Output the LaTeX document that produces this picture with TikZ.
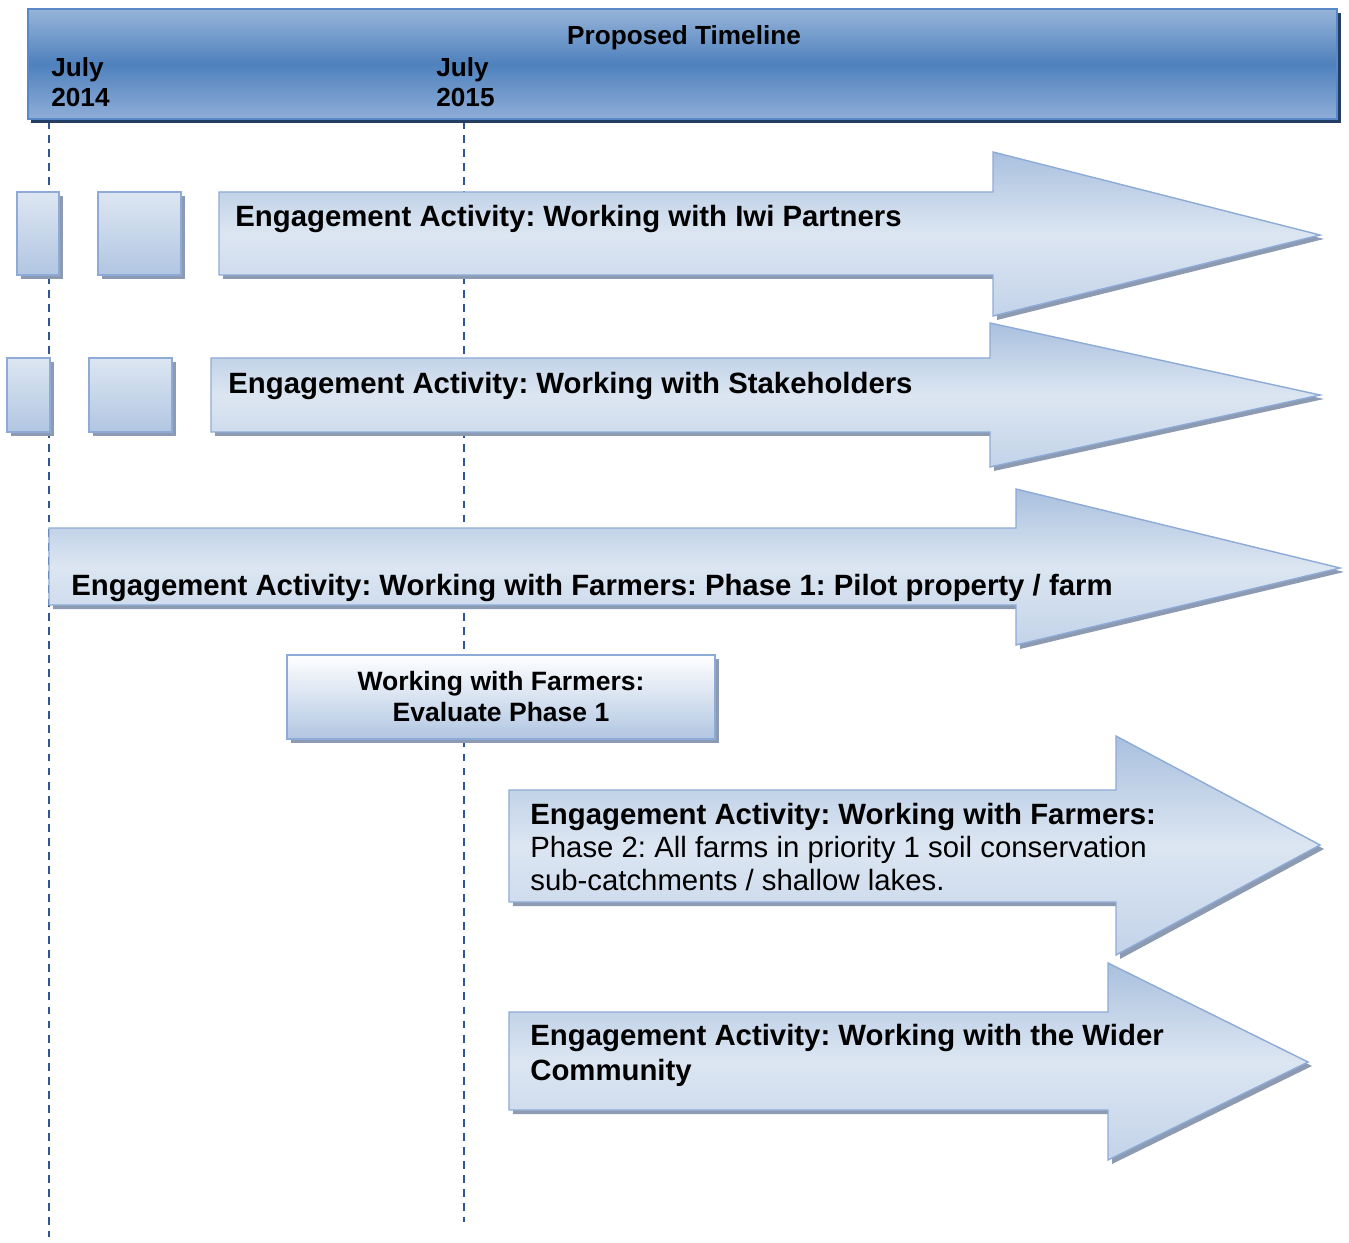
\documentclass[tikz,border=0pt]{standalone}
\usepackage{fontspec}
\setmainfont{Liberation Sans}
\frenchspacing
\definecolor{hdrtop}{HTML}{97B4D9}
\definecolor{hdrmid}{HTML}{4F81BD}
\definecolor{hdrbot}{HTML}{8FAED8}
\definecolor{hdrline}{HTML}{5A87C5}
\definecolor{hdrshadow}{HTML}{233D63}
\definecolor{boxline}{HTML}{8DABD6}
\definecolor{boxtop}{HTML}{DDE6F2}
\definecolor{boxbot}{HTML}{B1C6E2}
\definecolor{arrtop}{HTML}{A9C0DE}
\definecolor{arrmid}{HTML}{DCE6F2}
\definecolor{arrbot}{HTML}{C3D3E9}
\definecolor{dropgray}{HTML}{8C9BB1}
\definecolor{lineblue}{HTML}{2F5597}
\tikzset{
	dropshadow/.style={fill=dropgray,draw=none},
	smallbox/.style={draw=boxline,line width=0.8pt,top color=boxtop,bottom color=boxbot},
	evalbox/.style={draw=boxline,line width=0.8pt,top color=white,bottom color=boxbot},
	bigarrow/.style={draw=boxline,line width=0.8pt,top color=arrtop,bottom color=arrbot,middle color=arrmid},
	yearline/.style={lineblue,line width=1.1pt,dash pattern=on 4.5pt off 3.5pt},
	hdrtxt/.style={inner sep=0pt,font=\fontsize{14.9}{17}\selectfont\bfseries},
	acttxt/.style={inner sep=0pt,font=\fontsize{16.7}{18.7}\selectfont\bfseries}
}
\begin{document}
\begin{tikzpicture}[x=0.02cm,y=-0.02cm]
		\useasboundingbox (0,0) rectangle (1349,1243);
		\coordinate (y14top) at (49,121);
		\coordinate (y14bot) at (49,1237);
		\coordinate (y15top) at (464,121);
		\coordinate (y15bot) at (464,1222);
		\draw [yearline] (y14top) -- (y14bot);
		\draw [yearline] (y15top) -- (y15bot);
		\fill [hdrshadow] (31,13) rectangle (1341,123);
		\draw [hdrline,line width=1.4pt,top color=hdrtop,bottom color=hdrbot,middle color=hdrmid] (28,9) rectangle (1337,119);
		\node [hdrtxt,anchor=base] (title) at (684,45) {Proposed Timeline};
		\node [hdrtxt,anchor=north west,align=left] (jul14) at (51,57) {July\\2014};
		\node [hdrtxt,anchor=north west,align=left] (jul15) at (436,57) {July\\2015};
		\fill [dropshadow] (21,196) rectangle (63,279);
		\fill [dropshadow] (102,196) rectangle (185,279);
		\draw [smallbox] (17,192) rectangle (59,275);
		\draw [smallbox] (98,192) rectangle (181,275);
		\fill [dropshadow,shift={(4,4)}] (219,192) -- (993,192) -- (993,152) -- (1320,235) -- (993,316) -- (993,275) -- (219,275) -- cycle;
		\draw [bigarrow] (219,192) -- (993,192) -- (993,152) -- (1320,235) -- (993,316) -- (993,275) -- (219,275) -- cycle;
		\node [acttxt,anchor=base west] (iwi) at (235,227) {Engagement Activity: Working with Iwi Partners};
		\fill [dropshadow] (11,362) rectangle (54,436);
		\fill [dropshadow] (93,362) rectangle (176,436);
		\draw [smallbox] (7,358) rectangle (50,432);
		\draw [smallbox] (89,358) rectangle (172,432);
		\fill [dropshadow,shift={(4,4)}] (211,358) -- (990,358) -- (990,323) -- (1320,395) -- (990,467) -- (990,432) -- (211,432) -- cycle;
		\draw [bigarrow] (211,358) -- (990,358) -- (990,323) -- (1320,395) -- (990,467) -- (990,432) -- (211,432) -- cycle;
		\node [acttxt,anchor=base west] (stake) at (228,394) {Engagement Activity: Working with Stakeholders};
		\fill [dropshadow,shift={(4,4)}] (49,528) -- (1016,528) -- (1016,489) -- (1340,568) -- (1016,645) -- (1016,605) -- (49,605) -- cycle;
		\draw [bigarrow] (49,528) -- (1016,528) -- (1016,489) -- (1340,568) -- (1016,645) -- (1016,605) -- (49,605) -- cycle;
		\node [acttxt,anchor=base west] (farm1) at (71,595) {Engagement Activity: Working with Farmers: Phase 1: Pilot property / farm};
		\fill [dropshadow] (291,659) rectangle (719,743);
		\draw [evalbox] (287,655) rectangle (715,739);
		\node [inner sep=0pt,anchor=north,align=center,font=\fontsize{15.1}{17.6}\selectfont\bfseries] (eval) at (501,671) {Working with Farmers:\\Evaluate Phase 1};
		\fill [dropshadow,shift={(4,4)}] (509,790) -- (1116,790) -- (1116,736) -- (1320,845) -- (1116,955) -- (1116,902) -- (509,902) -- cycle;
		\draw [bigarrow] (509,790) -- (1116,790) -- (1116,736) -- (1320,845) -- (1116,955) -- (1116,902) -- (509,902) -- cycle;
		\node [inner sep=0pt,anchor=north west,align=left,font=\fontsize{16.7}{18.7}\selectfont] (farm2) at (530,803) {\textbf{Engagement Activity: Working with Farmers:}\\Phase 2: All farms in priority 1 soil conservation\\sub-catchments / shallow lakes.};
		\fill [dropshadow,shift={(4,4)}] (509,1012) -- (1108,1012) -- (1108,963) -- (1308,1062) -- (1108,1160) -- (1108,1110) -- (509,1110) -- cycle;
		\draw [bigarrow] (509,1012) -- (1108,1012) -- (1108,963) -- (1308,1062) -- (1108,1160) -- (1108,1110) -- (509,1110) -- cycle;
		\node [acttxt,anchor=north west,align=left,font=\fontsize{16.7}{19.8}\selectfont\bfseries] (wider) at (530,1024) {Engagement Activity: Working with the Wider\\Community};
	\end{tikzpicture}
\end{document}
